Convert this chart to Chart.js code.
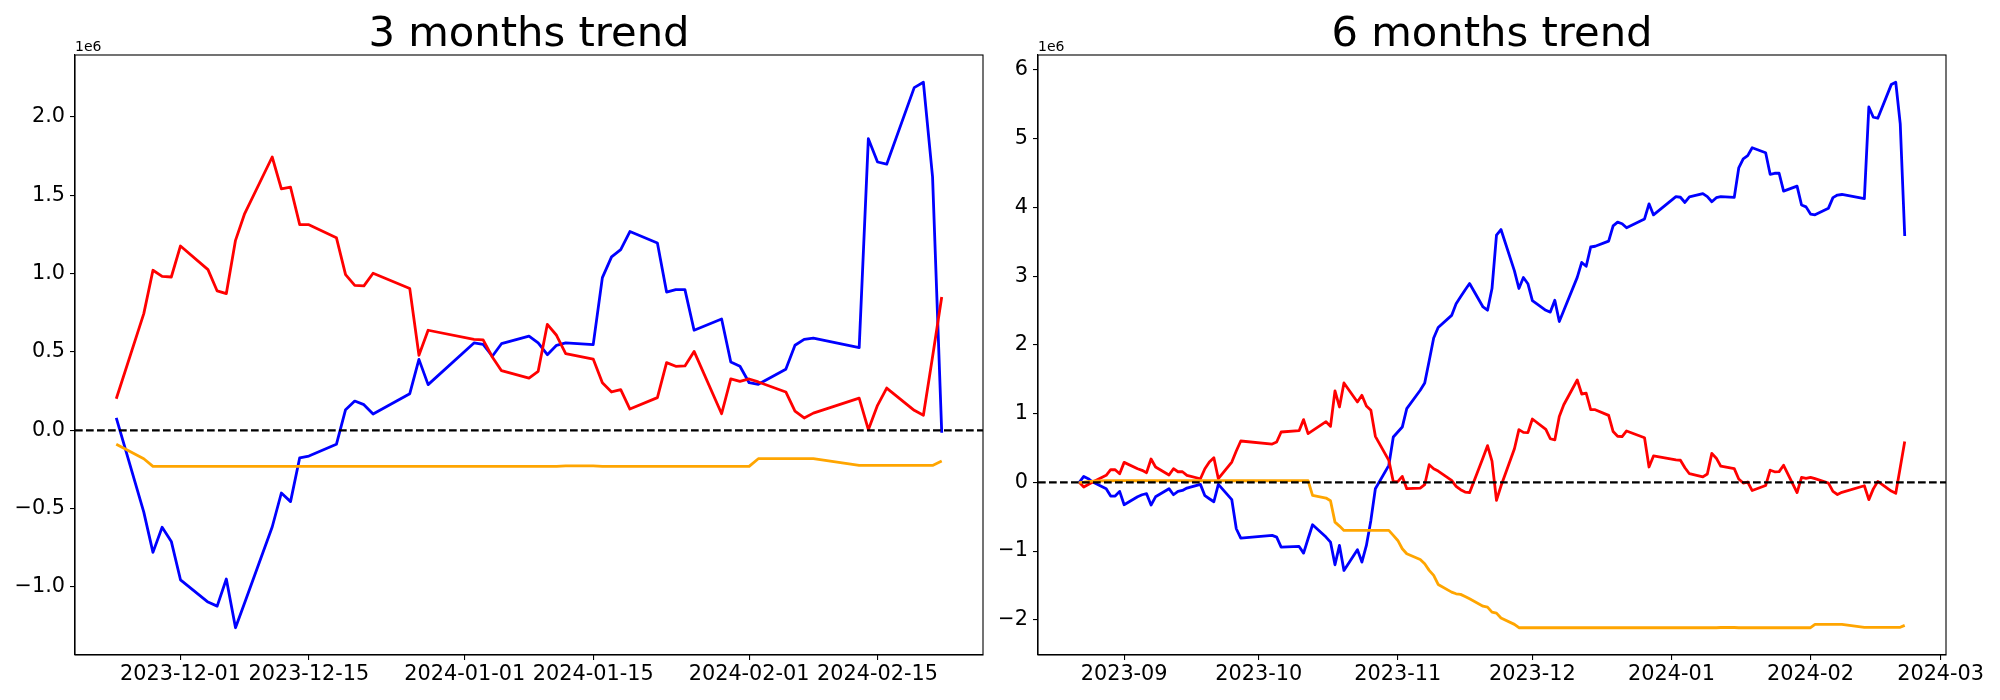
<!DOCTYPE html>
<html><head><meta charset="utf-8">
<script src="https://cdn.jsdelivr.net/npm/chart.js@4.4.1/dist/chart.umd.min.js"></script>
<style>
html,body{margin:0;padding:0;background:#fff;}
#wrap{position:relative;width:2000px;height:700px;background:#fff;}
canvas{position:absolute;top:0;}
</style></head><body>
<div id="wrap">
<canvas id="c3" width="1000" height="700" style="left:0px"></canvas>
<canvas id="c6" width="1000" height="700" style="left:1000px"></canvas>
</div>
<script>
// ---------- DATA (values in units of 1e6) ----------
const title3m = '3 months trend';
const title6m = '6 months trend';

const dates3m = [
 '2023-11-24','2023-11-27','2023-11-28','2023-11-29','2023-11-30',
 '2023-12-01','2023-12-04','2023-12-05','2023-12-06','2023-12-07','2023-12-08','2023-12-11','2023-12-12','2023-12-13','2023-12-14','2023-12-15','2023-12-18','2023-12-19','2023-12-20','2023-12-21','2023-12-22','2023-12-26','2023-12-27','2023-12-28',
 '2024-01-02','2024-01-03','2024-01-04','2024-01-05','2024-01-08','2024-01-09','2024-01-10','2024-01-11','2024-01-12','2024-01-15','2024-01-16','2024-01-17','2024-01-18','2024-01-19','2024-01-22','2024-01-23','2024-01-24','2024-01-25','2024-01-26','2024-01-29','2024-01-30','2024-01-31',
 '2024-02-01','2024-02-02','2024-02-05','2024-02-06','2024-02-07','2024-02-08','2024-02-13','2024-02-14','2024-02-15','2024-02-16','2024-02-19','2024-02-20','2024-02-21','2024-02-22'
];
const blue3m = [
 0.079,-0.522,-0.779,-0.619,-0.709,
 -0.954,-1.096,-1.122,-0.949,-1.26,-1.10,-0.617,-0.40,-0.455,-0.175,-0.164,-0.089,0.132,0.187,0.164,0.104,0.234,0.453,0.292,
 0.558,0.549,0.473,0.553,0.602,0.558,0.483,0.543,0.558,0.547,0.975,1.107,1.154,1.269,1.196,0.883,0.898,0.898,0.639,0.711,0.436,0.409,
 0.304,0.294,0.39,0.543,0.581,0.589,0.528,1.862,1.713,1.699,2.188,2.222,1.618,-0.015
];
const red3m = [
 0.202,0.745,1.022,0.983,0.979,
 1.177,1.026,0.890,0.873,1.213,1.384,1.745,1.541,1.552,1.313,1.313,1.230,0.994,0.926,0.922,1.003,0.905,0.479,0.639,
 0.581,0.577,0.468,0.381,0.334,0.377,0.677,0.607,0.49,0.455,0.304,0.245,0.26,0.136,0.209,0.432,0.409,0.411,0.504,0.106,0.328,0.313,
 0.328,0.309,0.245,0.123,0.079,0.11,0.206,0.004,0.16,0.27,0.128,0.096,0.47,0.851
];
const orange3m = [
 -0.089,-0.181,-0.23,-0.23,-0.23,
 -0.23,-0.23,-0.23,-0.23,-0.23,-0.23,-0.23,-0.23,-0.23,-0.23,-0.23,-0.23,-0.23,-0.23,-0.23,-0.23,-0.23,-0.23,-0.23,
 -0.23,-0.23,-0.23,-0.23,-0.23,-0.23,-0.23,-0.23,-0.227,-0.227,-0.23,-0.23,-0.23,-0.23,-0.23,-0.23,-0.23,-0.23,-0.23,-0.23,-0.23,-0.23,
 -0.23,-0.181,-0.181,-0.181,-0.181,-0.181,-0.224,-0.224,-0.224,-0.224,-0.224,-0.224,-0.224,-0.196
];

const dates6mEarly = [
 '2023-08-22','2023-08-23','2023-08-24','2023-08-25','2023-08-28','2023-08-29','2023-08-30','2023-08-31',
 '2023-09-01','2023-09-04','2023-09-05','2023-09-06','2023-09-07','2023-09-08','2023-09-11','2023-09-12','2023-09-13','2023-09-14','2023-09-15','2023-09-18','2023-09-19','2023-09-20','2023-09-21','2023-09-22','2023-09-25','2023-09-26','2023-09-27',
 '2023-10-04','2023-10-05','2023-10-06','2023-10-10','2023-10-11','2023-10-12','2023-10-13','2023-10-16','2023-10-17','2023-10-18','2023-10-19','2023-10-20','2023-10-23','2023-10-24','2023-10-25','2023-10-26','2023-10-27','2023-10-30','2023-10-31',
 '2023-11-01','2023-11-02','2023-11-03','2023-11-06','2023-11-07','2023-11-08','2023-11-09','2023-11-10','2023-11-13','2023-11-14','2023-11-15','2023-11-16','2023-11-17','2023-11-20','2023-11-21','2023-11-22','2023-11-23'
];
const dates6m = dates6mEarly.concat(dates3m);
const blue6m = [
 0,0.087,0.053,0.005,-0.092,-0.199,-0.199,-0.131,
 -0.325,-0.21,-0.18,-0.165,-0.33,-0.21,-0.092,-0.18,-0.131,-0.117,-0.083,-0.029,-0.194,-0.238,-0.282,-0.029,-0.252,-0.675,-0.811,
 -0.772,-0.796,-0.942,-0.932,-1.029,-0.82,-0.616,-0.796,-0.869,-1.199,-0.917,-1.281,-0.98,-1.16,-0.917,-0.553,-0.092,0.248,0.66,
 0.733,0.805,1.073,1.34,1.447,1.77,2.10,2.253,2.43,2.60,2.70,2.80,2.893,2.553,2.505,2.82,3.597,
 3.679,3.078,2.821,2.981,2.891,
 2.646,2.504,2.478,2.651,2.34,2.50,2.983,3.20,3.145,3.425,3.436,3.511,3.732,3.787,3.764,3.704,3.834,4.053,3.892,
 4.158,4.149,4.073,4.153,4.202,4.158,4.083,4.143,4.158,4.147,4.575,4.707,4.754,4.869,4.796,4.483,4.498,4.498,4.239,4.311,4.036,4.009,
 3.904,3.894,3.99,4.143,4.181,4.189,4.128,5.462,5.313,5.299,5.788,5.822,5.218,3.585
];
const red6m = [
 0,-0.068,-0.03,0.005,0.102,0.184,0.184,0.126,
 0.291,0.199,0.175,0.141,0.34,0.223,0.107,0.199,0.155,0.155,0.102,0.053,0.199,0.296,0.359,0.053,0.296,0.456,0.602,
 0.558,0.587,0.733,0.752,0.913,0.709,0.752,0.883,0.815,1.33,1.097,1.447,1.17,1.267,1.111,1.049,0.67,0.32,0.01,
 0.01,0.087,-0.092,-0.083,-0.034,0.257,0.199,0.165,0.029,-0.058,-0.107,-0.141,-0.15,0.36,0.534,0.31,-0.262,
 -0.053,0.49,0.767,0.728,0.724,
 0.922,0.771,0.635,0.618,0.958,1.129,1.49,1.286,1.297,1.058,1.058,0.975,0.739,0.671,0.667,0.748,0.65,0.224,0.384,
 0.326,0.322,0.213,0.126,0.079,0.122,0.422,0.352,0.235,0.20,0.049,-0.01,0.005,-0.119,-0.046,0.177,0.154,0.156,0.249,-0.149,0.073,0.058,
 0.073,0.054,-0.01,-0.132,-0.176,-0.145,-0.049,-0.251,-0.095,0.015,-0.127,-0.159,0.215,0.596
];
const orange6m = [
 0,0.005,0.012,0.018,0.024,0.024,0.025,0.025,
 0.025,0.024,0.024,0.025,0.025,0.024,0.024,0.024,0.025,0.025,0.024,0.024,0.024,0.025,0.025,0.025,0.024,0.024,0.024,
 0.024,0.025,0.025,0.025,0.025,0.024,-0.189,-0.228,-0.267,-0.578,-0.636,-0.699,-0.699,-0.699,-0.699,-0.699,-0.699,-0.699,-0.772,
 -0.845,-0.966,-1.039,-1.121,-1.184,-1.28,-1.354,-1.485,-1.597,-1.621,-1.63,-1.66,-1.694,-1.801,-1.815,-1.888,-1.903,
 -1.974,-2.066,-2.115,-2.115,-2.115,
 -2.115,-2.115,-2.115,-2.115,-2.115,-2.115,-2.115,-2.115,-2.115,-2.115,-2.115,-2.115,-2.115,-2.115,-2.115,-2.115,-2.115,-2.115,-2.115,
 -2.115,-2.115,-2.115,-2.115,-2.115,-2.115,-2.115,-2.115,-2.112,-2.112,-2.115,-2.115,-2.115,-2.115,-2.115,-2.115,-2.115,-2.115,-2.115,-2.115,-2.115,-2.115,
 -2.115,-2.066,-2.066,-2.066,-2.066,-2.066,-2.109,-2.109,-2.109,-2.109,-2.109,-2.109,-2.109,-2.081
];

const xTicks3m = ['2023-12-01','2023-12-15','2024-01-01','2024-01-15','2024-02-01','2024-02-15'];
const xTicks6m = ['2023-09-01','2023-10-01','2023-11-01','2023-12-01','2024-01-01','2024-02-01','2024-03-01'];
const yTicks3m = [-1.0,-0.5,0.0,0.5,1.0,1.5,2.0];
const yTicks6m = [-2,-1,0,1,2,3,4,5,6];
const offsetLabel = '1e6';

// ---------- RENDERING ----------
const FONT = 'DejaVu Sans';
Chart.defaults.font.family = FONT;
Chart.defaults.color = '#000';
const DAY = 86400000;
const MINUS = '\u2212';
function dayNum(s){ return Date.parse(s + 'T00:00:00Z') / DAY; }
function fmtDay(v, monthly){
  const s = new Date(Math.round(v) * DAY).toISOString().slice(0, 10);
  return monthly ? s.slice(0, 7) : s;
}

const decor = {
  id: 'decor',
  afterDatasetsDraw(chart) {
    const a = chart.chartArea, ctx = chart.ctx;
    ctx.save();
    ctx.strokeStyle = '#000';
    ctx.lineWidth = 1.1;
    ctx.strokeRect(a.left, a.top, a.right - a.left, a.bottom - a.top);
    ctx.restore();
  },
  afterDraw(chart, args, opts) {
    const a = chart.chartArea, ctx = chart.ctx;
    ctx.save();
    ctx.fillStyle = '#000';
    ctx.font = '41.7px "' + FONT + '"';
    ctx.textAlign = 'center';
    ctx.textBaseline = 'alphabetic';
    ctx.fillText(opts.title, (a.left + a.right) / 2, 46);
    ctx.font = '14px "' + FONT + '"';
    ctx.textAlign = 'left';
    ctx.fillText(offsetLabel, a.left, a.top - 4);
    ctx.restore();
  }
};

function makeChart(id, cfg) {
  const xs = cfg.dates.map(dayNum);
  const x0 = xs[0], x1 = xs[xs.length - 1];
  const xPad = (x1 - x0) * 0.05;
  const all = cfg.blue.concat(cfg.red, cfg.orange);
  const yLo = Math.min(...all), yHi = Math.max(...all);
  const yPad = (yHi - yLo) * 0.05;
  const pts = arr => arr.map((v, i) => ({x: xs[i], y: v}));
  const line = (data, color, order) => ({
    data: pts(data), borderColor: color, borderWidth: 2.8, pointRadius: 0,
    tension: 0, fill: false, borderJoinStyle: 'round', order: order
  });
  const tickDays = cfg.xTicks.map(dayNum);
  const grid = {display: true, drawOnChartArea: false, drawTicks: true, tickLength: 5,
                tickWidth: 1.1, tickColor: '#000', color: '#000', lineWidth: 1.1};
  return new Chart(document.getElementById(id), {
    type: 'line',
    data: {
      datasets: [
        {data: [{x: x0 - xPad, y: 0}, {x: x1 + xPad, y: 0}], borderColor: '#000', borderWidth: 2.1,
         borderDash: [7.7, 3.3], pointRadius: 0, order: 0},
        line(cfg.orange, '#ffa500', 1),
        line(cfg.red, '#ff0000', 2),
        line(cfg.blue, '#0000ff', 3)
      ]
    },
    options: {
      responsive: false, animation: false, devicePixelRatio: 1, events: [],
      layout: {padding: {left: 0, right: cfg.padRight, top: 55, bottom: 0}},
      plugins: {legend: {display: false}, tooltip: {enabled: false}, decor: {title: cfg.title}},
      scales: {
        x: {
          type: 'linear', min: x0 - xPad, max: x1 + xPad,
          afterBuildTicks: s => { s.ticks = tickDays.map(v => ({value: v})); },
          afterFit: s => { s.height = 45; },
          ticks: {autoSkip: false, maxRotation: 0, padding: 2, font: {size: 20.8}, color: '#000',
                  callback: v => fmtDay(v, cfg.monthly)},
          grid: grid, border: {display: true, color: '#000', width: 1.1}
        },
        y: {
          type: 'linear', min: yLo - yPad, max: yHi + yPad,
          afterBuildTicks: s => { s.ticks = cfg.yTicks.map(v => ({value: v})); },
          afterFit: s => { s.width = cfg.yWidth; },
          ticks: {padding: 5, font: {size: 20.8}, color: '#000',
                  callback: v => (v < 0 ? MINUS : '') + Math.abs(v).toFixed(cfg.dec)},
          grid: grid, border: {display: true, color: '#000', width: 1.1}
        }
      }
    },
    plugins: [decor]
  });
}

makeChart('c3', {dates: dates3m, blue: blue3m, red: red3m, orange: orange3m,
  xTicks: xTicks3m, yTicks: yTicks3m, monthly: false, dec: 1, yWidth: 75, padRight: 17, title: title3m});
makeChart('c6', {dates: dates6m, blue: blue6m, red: red6m, orange: orange6m,
  xTicks: xTicks6m, yTicks: yTicks6m, monthly: true, dec: 0, yWidth: 38, padRight: 54, title: title6m});
</script>
</body></html>
